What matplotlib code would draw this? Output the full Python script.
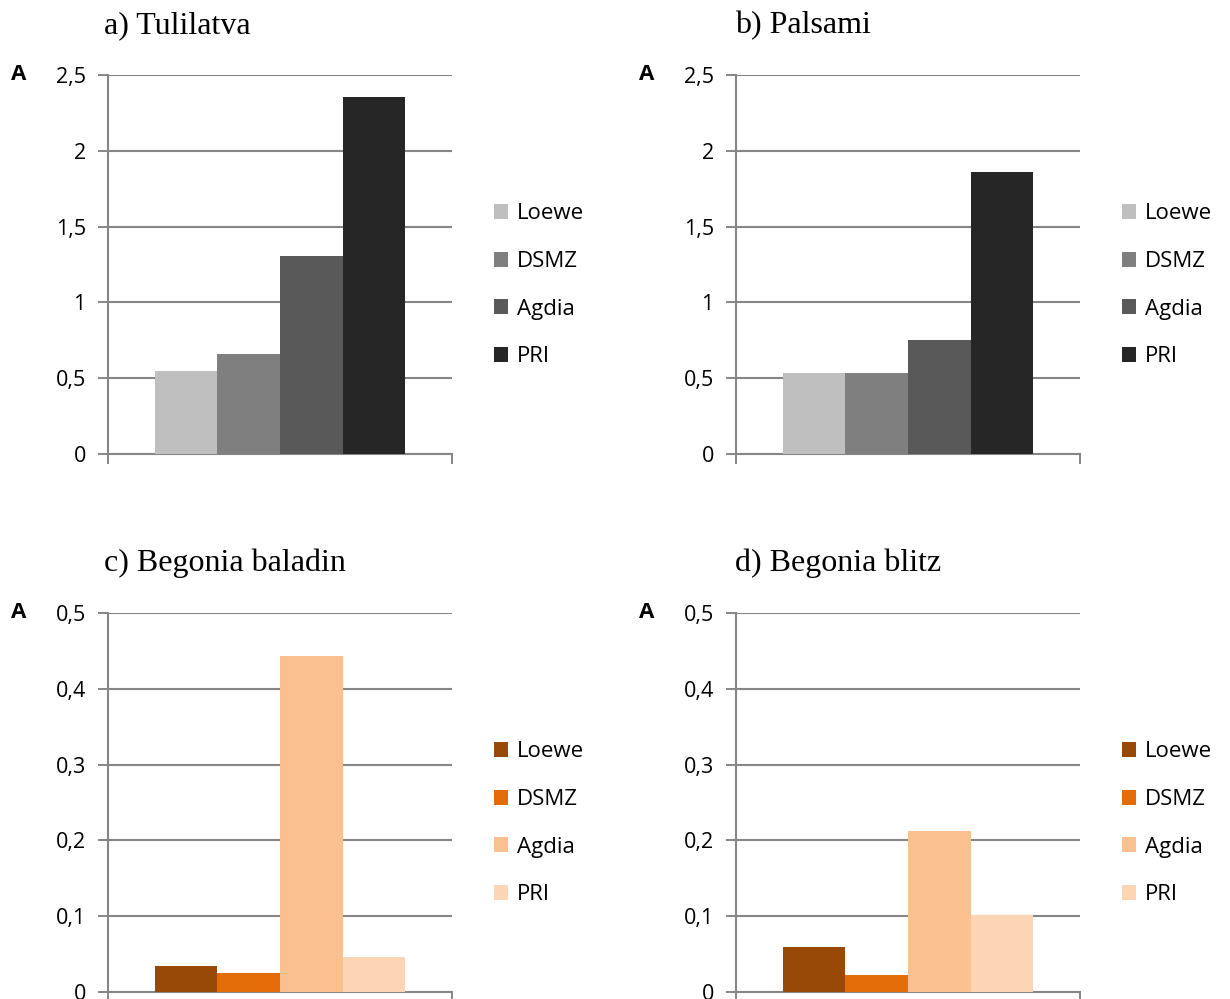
import matplotlib
matplotlib.use("Agg")
import matplotlib.pyplot as plt
from matplotlib.patches import Patch

# Data
series = ["Loewe", "DSMZ", "Agdia", "PRI"]
titles = ["a) Tulilatva", "b) Palsami", "c) Begonia baladin", "d) Begonia blitz"]
tulilatva = [0.55, 0.66, 1.305, 2.355]
palsami = [0.534, 0.534, 0.752, 1.86]
begonia_baladin = [0.034, 0.025, 0.443, 0.046]
begonia_blitz = [0.060, 0.022, 0.2125, 0.102]
ticks_top = [0, 0.5, 1, 1.5, 2, 2.5]
ticks_bottom = [0, 0.1, 0.2, 0.3, 0.4, 0.5]

grays = ["#BFBFBF", "#7F7F7F", "#595959", "#262626"]
oranges = ["#984807", "#E36C09", "#FAC090", "#FCD5B5"]

W, H = 1230, 999
fig = plt.figure(figsize=(W / 100, H / 100), dpi=100)

tick_font = "Open Sans"
grid_c = "#868686"

# values, colours, ticks, axes left, axes top, axes bottom, title x
panels = [
    (tulilatva, grays, ticks_top, 108, 75, 454, 104),
    (palsami, grays, ticks_top, 736, 75, 454, 735),
    (begonia_baladin, oranges, ticks_bottom, 108, 613, 992, 104),
    (begonia_blitz, oranges, ticks_bottom, 736, 613, 992, 735),
]

bar_w = 0.1817
for (vals, cols, yt, x0, ytop, ybot, tx), title in zip(panels, titles):
    ax = fig.add_axes([x0 / W, 1 - ybot / H, 344 / W, (ybot - ytop) / H])
    n = len(vals)
    for i, (v, c) in enumerate(zip(vals, cols)):
        ax.bar((i - (n - 1) / 2) * bar_w, v, width=bar_w, color=c,
               linewidth=0, label=series[i], zorder=3)
    ax.set_xlim(-0.5, 0.5)
    ax.set_ylim(yt[0], yt[-1])
    ax.set_yticks(yt)
    ax.set_yticklabels([("%g" % t).replace(".", ",") for t in yt],
                       fontfamily=tick_font, fontsize=15.5)
    ax.set_xticks([-0.5, 0.5])
    ax.set_xticklabels([])
    ax.tick_params(axis="both", direction="out", length=7, width=1.4,
                   color=grid_c, pad=9)
    ax.tick_params(axis="x", pad=2)
    ax.grid(axis="y", color=grid_c, linewidth=1.5, zorder=0)
    ax.set_axisbelow(True)
    for s in ["top", "right"]:
        ax.spines[s].set_visible(False)
    for s in ["left", "bottom"]:
        ax.spines[s].set_color(grid_c)
        ax.spines[s].set_linewidth(1.5)
    handles = [Patch(facecolor=c, edgecolor="none") for c in cols]
    ax.legend(handles, series, loc="center left", bbox_to_anchor=(1.096, 0.445),
              frameon=False, prop={"family": tick_font, "size": 16},
              handlelength=0.65, handleheight=0.65, handletextpad=0.4,
              labelspacing=1.2, borderaxespad=0)
    fig.text(tx / W, 1 - (ytop - 42) / H, title,
             fontfamily="Liberation Serif", fontsize=23, va="baseline", ha="left")
    fig.text((x0 - 97) / W, 1 - (ytop - 1) / H, "A", fontfamily=tick_font,
             fontweight="bold", fontsize=16, va="center", ha="left")

fig.savefig("out.png", dpi=100)
